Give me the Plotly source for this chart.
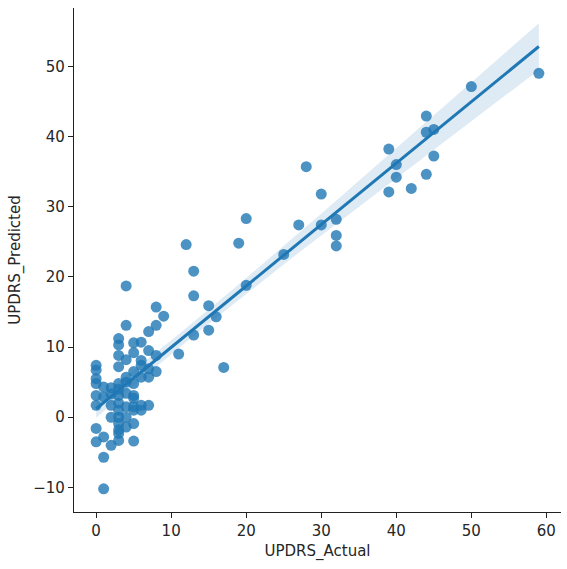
import numpy as np
import plotly.graph_objects as go

# Data
updrs_actual = [
    59, 50, 44, 44, 45, 39, 40, 45, 40, 44, 39, 42,
    28, 30, 20, 27, 30, 32, 32, 32, 19, 12, 25, 13, 20, 13, 15, 16, 13, 15, 11, 17, 9, 8,
    4, 4, 8, 7, 3, 3, 5, 6, 7, 5, 3, 4, 6, 8, 0, 0, 3, 6, 7, 8, 7, 5, 4,
    0, 0, 1, 2, 3, 3, 4, 5, 6, 0, 1, 2, 3, 4, 5, 0, 2, 3, 4, 5, 5, 6, 7,
    2, 3, 3, 4, 5, 6, 3, 4, 5, 3, 0, 3, 3, 1, 0, 2, 5, 1, 1,
]
updrs_predicted = [
    49.0, 47.1, 42.9, 40.6, 41.0, 38.2, 36.0, 37.2, 34.2, 34.6, 32.1, 32.6,
    35.7, 31.8, 28.3, 27.4, 27.4, 28.2, 25.9, 24.4, 24.8, 24.6, 23.2, 20.8, 18.8, 17.3, 15.9, 14.3, 11.7, 12.4, 9.0, 7.1, 14.4, 15.7,
    18.7, 13.1, 13.1, 12.2, 11.2, 10.3, 10.6, 10.7, 9.5, 9.2, 8.8, 8.2, 8.1, 8.8, 7.4, 6.7, 7.2, 7.4, 6.9, 6.5, 5.7, 6.5, 5.7,
    5.5, 4.8, 4.3, 4.2, 4.8, 4.0, 5.0, 4.8, 5.7, 3.1, 2.9, 3.3, 3.1, 3.4, 3.1, 1.7, 1.7, 2.0, 1.5, 2.7, 1.5, 1.7, 1.7,
    0.0, 1.0, 0.0, 0.0, 1.0, 1.0, -0.9, -1.4, -0.9, -1.8, -1.6, -2.3, -3.3, -2.8, -3.5, -4.0, -3.4, -5.7, -10.2,
]

x_label = "UPDRS_Actual"
y_label = "UPDRS_Predicted"
x_ticks = [0, 10, 20, 30, 40, 50, 60]
y_ticks = [-10, 0, 10, 20, 30, 40, 50]

x = np.array(updrs_actual, dtype=float)
y = np.array(updrs_predicted, dtype=float)

# Linear regression fit with 95% confidence band
n = len(x)
slope, intercept = np.polyfit(x, y, 1)
xs = np.linspace(x.min(), x.max(), 100)
ys = intercept + slope * xs
resid = y - (intercept + slope * x)
s = np.sqrt(np.sum(resid ** 2) / (n - 2))
sxx = np.sum((x - x.mean()) ** 2)
se = s * np.sqrt(1.0 / n + (xs - x.mean()) ** 2 / sxx)
upper = ys + 1.985 * se
lower = ys - 1.985 * se

blue = "#1f77b4"
fig = go.Figure()
fig.add_trace(go.Scatter(
    x=np.concatenate([xs, xs[::-1]]), y=np.concatenate([upper, lower[::-1]]),
    fill="toself", fillcolor="rgba(31,119,180,0.15)", line=dict(width=0),
    mode="lines", hoverinfo="skip", showlegend=False))
fig.add_trace(go.Scatter(
    x=x, y=y, mode="markers",
    marker=dict(color=blue, size=11, opacity=0.8, line=dict(width=0)),
    showlegend=False))
fig.add_trace(go.Scatter(
    x=xs, y=ys, mode="lines", line=dict(color=blue, width=3), showlegend=False))

font = dict(family="DejaVu Sans", size=15, color="#262626")
axis_common = dict(
    showgrid=False, zeroline=False, showline=True, linecolor="#222222", linewidth=1.2,
    ticks="outside", ticklen=5, tickwidth=1.2, tickcolor="#222222",
    tickfont=font, mirror=False,
)
fig.update_xaxes(range=[-2.95, 61.95], tickvals=x_ticks,
                 title=dict(text=x_label, font=font, standoff=6),
                 **axis_common)
fig.update_yaxes(range=[-13.5, 58.3], tickvals=y_ticks,
                 ticktext=["\u221210" if v == -10 else str(v) for v in y_ticks],
                 title=dict(text=y_label, font=font, standoff=8),
                 **axis_common)
fig.update_layout(
    width=567, height=569, autosize=False,
    margin=dict(l=74, r=6, t=8, b=57),
    plot_bgcolor="white", paper_bgcolor="white",
)
fig.write_html("out.html")
